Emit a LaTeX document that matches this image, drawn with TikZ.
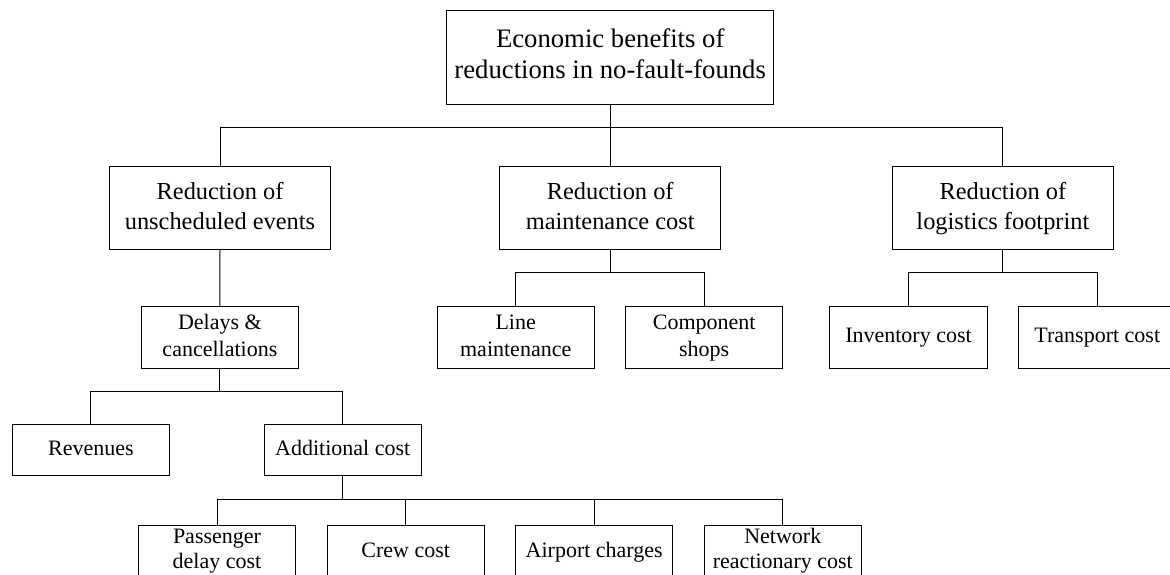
\documentclass[tikz,border=0pt]{standalone}
\usepackage{fontspec}
\setmainfont{Liberation Serif}
\newcommand{\xdep}[1]{\rule[-#1]{0pt}{0pt}}
\begin{document}
\begin{tikzpicture}[x=1pt,y=-1pt,
  box/.style={draw=black, line width=1pt, inner sep=0pt, align=center, minimum width=157.3pt},
  topbox/.style={box, minimum width=327.2pt, minimum height=94.3pt, font=\fontsize{26.7}{31}\selectfont},
  lonebox/.style={box, minimum width=220.5pt, minimum height=82pt, font=\fontsize{24.4}{30}\selectfont},
  ltwobox/.style={box, minimum height=61.6pt, font=\fontsize{22}{26.7}\selectfont},
  lthreebox/.style={box, minimum height=50.3pt, font=\fontsize{22}{26.7}\selectfont},
  lfourbox/.style={box, minimum height=62pt, font=\fontsize{22}{24.5}\selectfont},
  edge/.style={draw=black, line width=1pt}]
\useasboundingbox (0,0) rectangle (1170,575);
\clip (0,0) rectangle (1170,575);

\node[topbox] (top) at (610.2,57.2) {\strut Economic benefits of\\\strut reductions in no-fault-founds};

\node[lonebox] (r1) at (220,208) {\strut Reduction of\\\strut unscheduled events};
\node[lonebox] (r2) at (610.2,208) {\strut Reduction of\\\strut maintenance cost};
\node[lonebox] (r3) at (1002.9,208) {\strut Reduction of\\\strut logistics footprint};

\node[ltwobox] (delays) at (219.9,337.5) {\strut Delays \&\\\strut cancellations};
\node[ltwobox] (linem) at (515.7,337.5) {\strut Line\\\strut maintenance};
\node[ltwobox] (comp) at (704.2,337.5) {\strut Component\\\strut shops};
\node[ltwobox] (inv) at (908.5,337.5) {\strut Inventory cost};
\node[ltwobox] (trans) at (1097.3,337.5) {\strut Transport cost};

\node[lthreebox] (rev) at (90.9,449.9) {\strut Revenues};
\node[lthreebox] (add) at (342.7,449.9) {\strut Additional cost};

\node[lfourbox] (pass) at (217,556) {\strut Passenger\\\strut delay cost\xdep{17.6pt}};
\node[lfourbox] (crew) at (405.7,556) {\strut Crew cost\xdep{15pt}};
\node[lfourbox] (air) at (594.2,556) {\strut Airport charges\xdep{15pt}};
\node[lfourbox] (net) at (782.8,556) {\strut Network\\\strut reactionary cost\xdep{17.6pt}};

\coordinate (b1) at (610.2,127.7);
\coordinate (b2) at (610.2,272.3);
\coordinate (b3) at (219.9,391.7);
\coordinate (b4) at (342.7,499);

% level 1
\draw[edge] (top.south) -- (b1);
\draw[edge] (r1.north) -- (r1.north |- b1) -- (r3.north |- b1) -- (r3.north);
\draw[edge] (b1) -- (r2.north);
% unscheduled -> delays
\draw[edge] (r1.south) -- (delays.north);
% maintenance
\draw[edge] (r2.south) -- (r2.south |- b2);
\draw[edge] (linem.north) -- (linem.north |- b2) -- (comp.north |- b2) -- (comp.north);
% logistics
\draw[edge] (r3.south) -- (r3.south |- b2);
\draw[edge] (inv.north) -- (inv.north |- b2) -- (trans.north |- b2) -- (trans.north);
% delays
\draw[edge] (delays.south) -- (b3);
\draw[edge] (rev.north) -- (rev.north |- b3) -- (add.north |- b3) -- (add.north);
% additional cost
\draw[edge] (add.south) -- (b4);
\draw[edge] (pass.north) -- (pass.north |- b4) -- (net.north |- b4) -- (net.north);
\draw[edge] (crew.north) -- (crew.north |- b4);
\draw[edge] (air.north) -- (air.north |- b4);
\end{tikzpicture}
\end{document}
